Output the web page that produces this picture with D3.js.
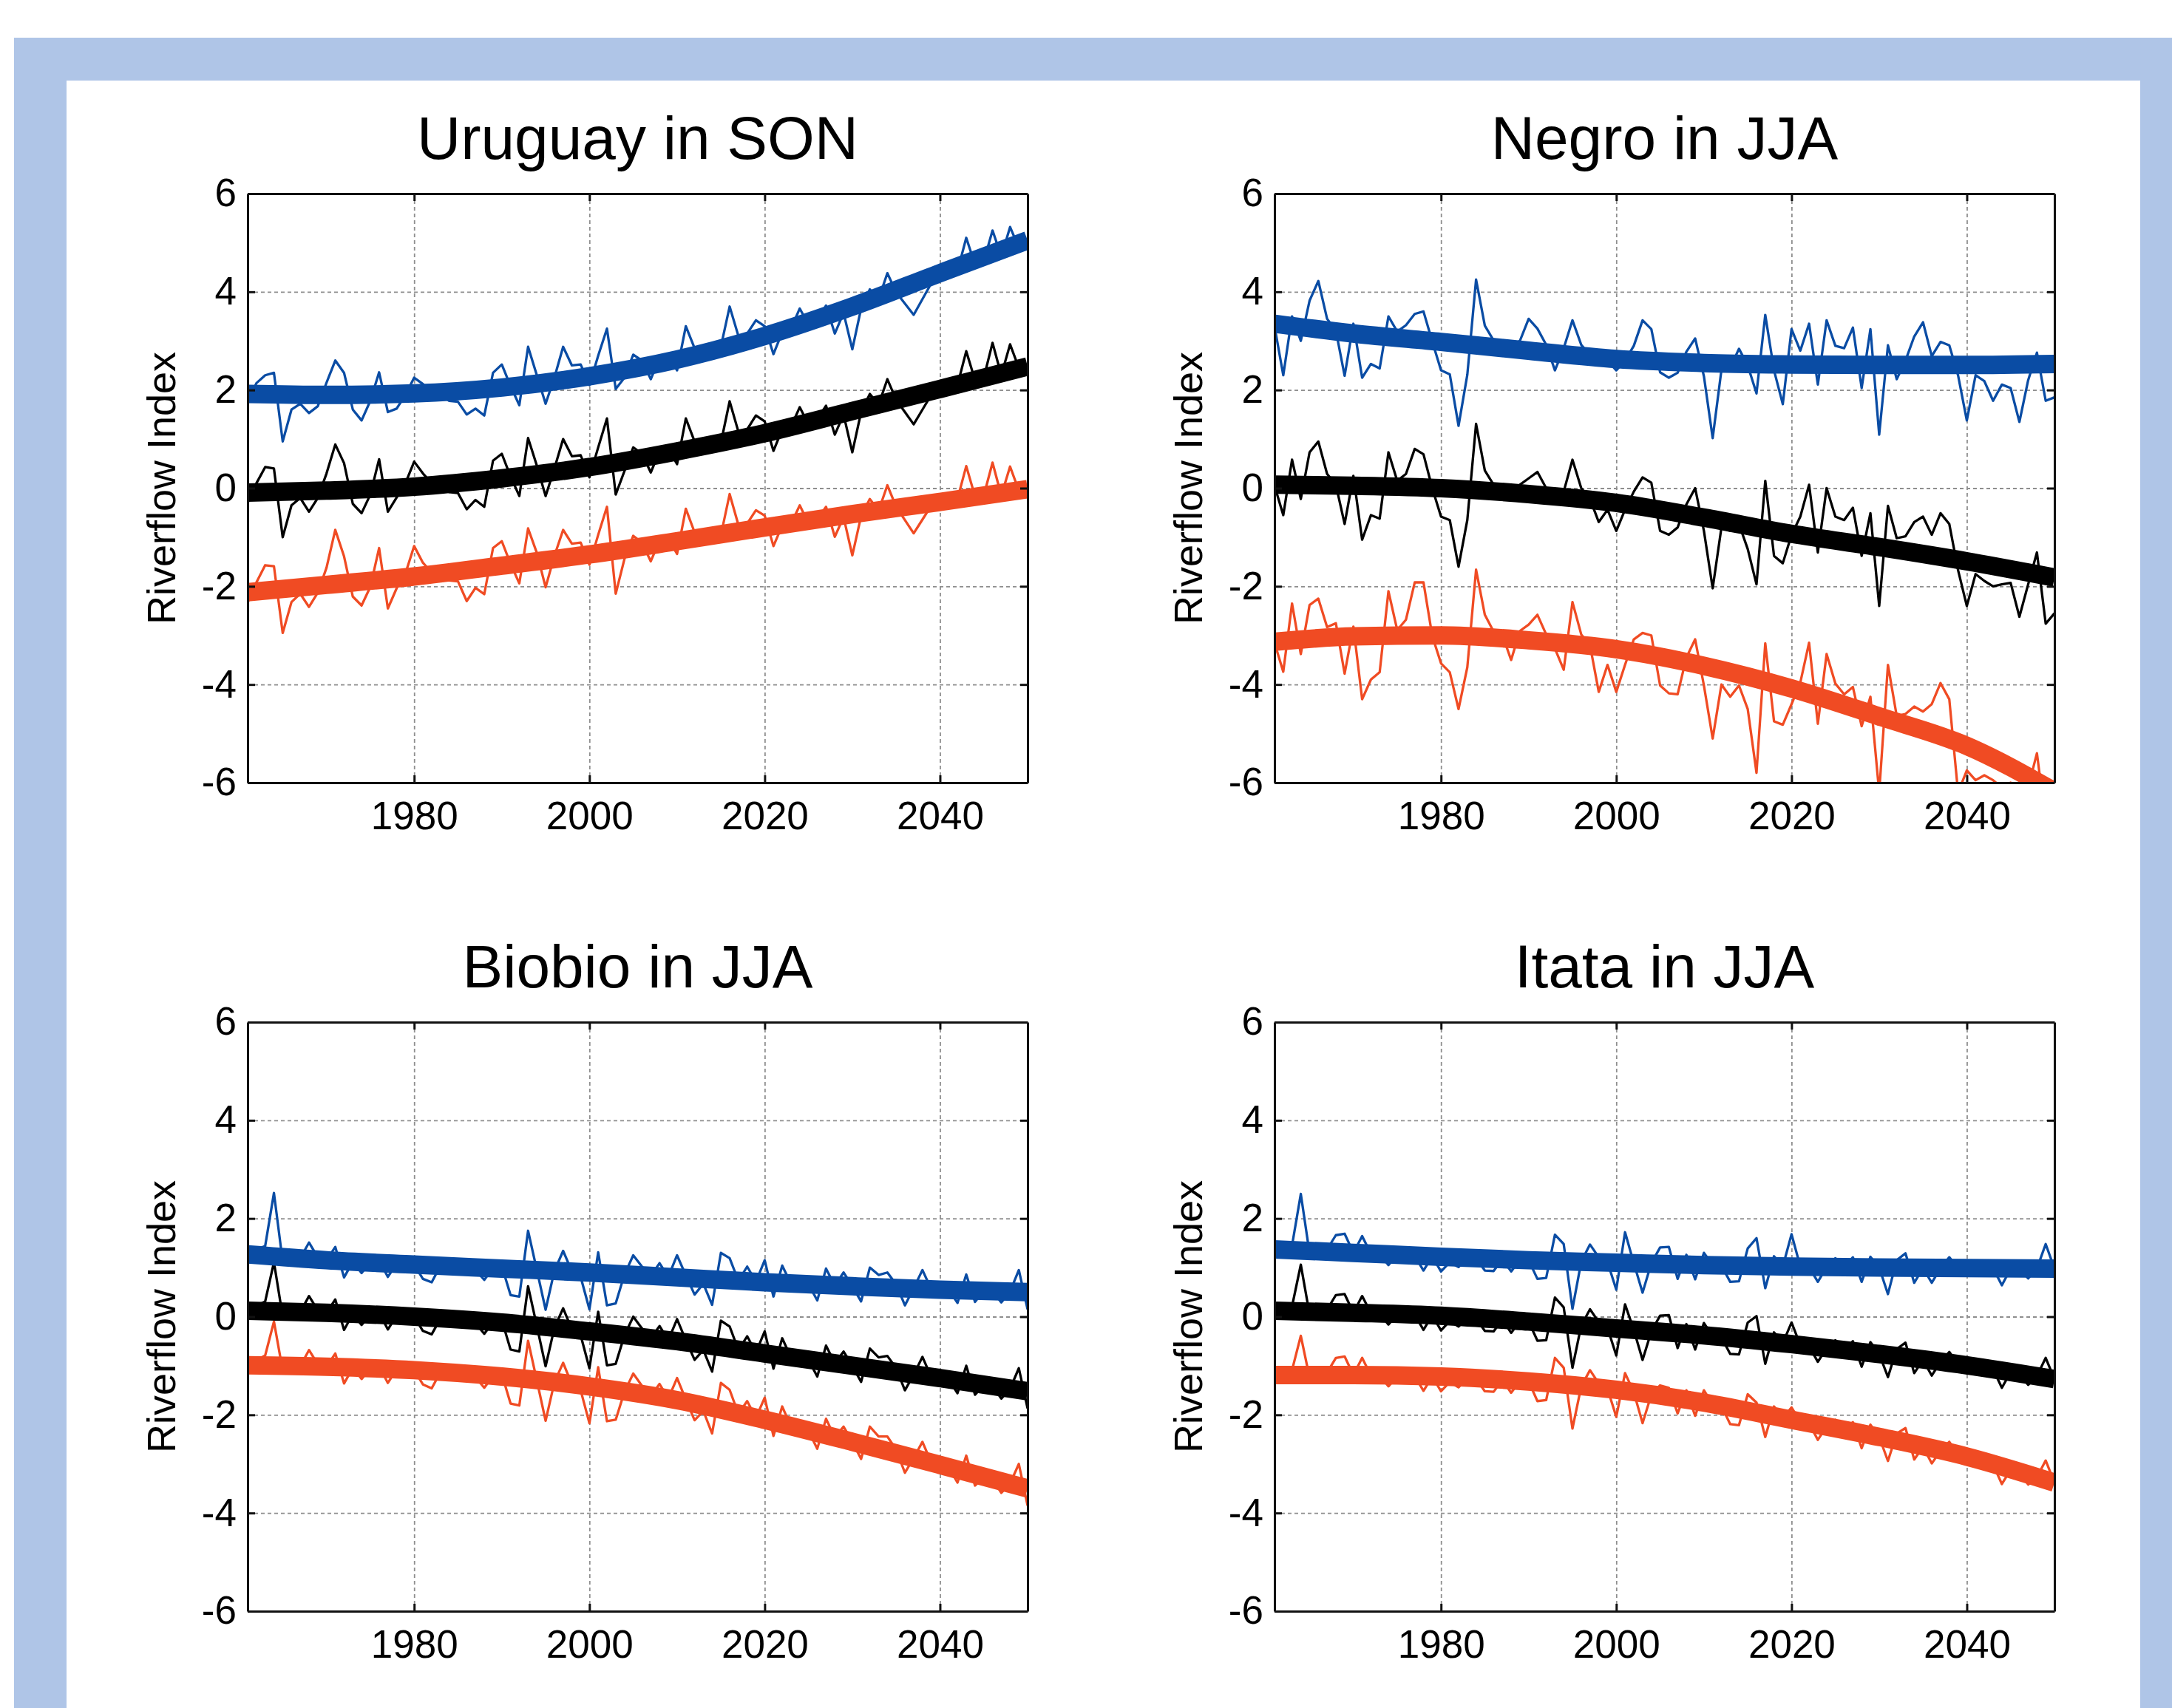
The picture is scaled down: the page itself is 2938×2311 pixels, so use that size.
<!DOCTYPE html>
<html>
<head>
<meta charset="utf-8">
<script src="https://cdn.jsdelivr.net/npm/d3@7"></script>
<style>
  html, body { margin: 0; padding: 0; background: #fff; }
  svg { display: block; }
</style>
</head>
<body>
<div id="chart"></div>
<script>
// years of the yearly series, and of the points the smooth fits are read at
const years = d3.range(1961, 2051)
const fitYears = [1961, 1970, 1980, 1990, 2000, 2010, 2020, 2030, 2040, 2050]
const yTicks = [-6, -4, -2, 0, 2, 4, 6]
const xTicks = [1980, 2000, 2020, 2040]

// Uruguay in SON
const uruguayBlue = [1.75, 2.14, 2.30, 2.35, 0.95, 1.60, 1.72, 1.53, 1.67, 2.15,
  2.60, 2.35, 1.60, 1.38, 1.78, 2.36, 1.55, 1.62, 1.90, 2.25,
  2.12, 1.96, 1.90, 1.78, 1.76, 1.50, 1.62, 1.48, 2.35, 2.52,
  2.08, 1.69, 2.88, 2.30, 1.72, 2.25, 2.88, 2.50, 2.52, 2.10,
  2.70, 3.25, 2.02, 2.25, 2.72, 2.60, 2.22, 2.65, 2.70, 2.40,
  3.30, 2.85, 2.82, 2.88, 2.88, 3.70, 3.10, 3.15, 3.42, 3.30,
  2.73, 3.18, 3.25, 3.66, 3.33, 3.42, 3.72, 3.15, 3.57, 2.83,
  3.66, 4.05, 3.85, 4.38, 3.99, 3.76, 3.53, 3.85, 4.17, 4.30,
  4.36, 4.42, 5.10, 4.55, 4.62, 5.25, 4.72, 5.32, 4.90, 4.95]
const uruguayBlack = [-0.30, 0.10, 0.43, 0.40, -1.00, -0.35, -0.20, -0.48, -0.20, 0.30,
  0.89, 0.51, -0.32, -0.51, -0.13, 0.59, -0.48, -0.19, 0.10, 0.54,
  0.30, 0.10, 0.05, -0.08, -0.10, -0.43, -0.24, -0.38, 0.56, 0.70,
  0.24, -0.16, 1.02, 0.46, -0.16, 0.40, 1.00, 0.65, 0.67, 0.22,
  0.83, 1.42, -0.13, 0.35, 0.83, 0.70, 0.32, 0.75, 0.80, 0.49,
  1.42, 0.95, 0.90, 0.95, 0.92, 1.77, 1.15, 1.20, 1.48, 1.36,
  0.76, 1.20, 1.25, 1.65, 1.30, 1.40, 1.68, 1.09, 1.50, 0.73,
  1.55, 1.92, 1.70, 2.22, 1.80, 1.55, 1.30, 1.60, 1.90, 2.00,
  2.05, 2.10, 2.79, 2.20, 2.25, 2.96, 2.30, 2.93, 2.45, 2.49]
const uruguayRed = [-2.33, -1.92, -1.57, -1.59, -2.95, -2.32, -2.15, -2.42, -2.13, -1.62,
  -0.85, -1.39, -2.21, -2.39, -2.01, -1.22, -2.45, -2.04, -1.74, -1.18,
  -1.52, -1.72, -1.76, -1.88, -1.90, -2.30, -2.03, -2.16, -1.22, -1.08,
  -1.54, -1.94, -0.82, -1.32, -2.02, -1.38, -0.85, -1.13, -1.11, -1.56,
  -0.95, -0.38, -2.15, -1.44, -0.97, -1.11, -1.49, -1.07, -1.03, -1.34,
  -0.42, -0.90, -0.96, -0.92, -0.96, -0.12, -0.75, -0.72, -0.45, -0.56,
  -1.18, -0.76, -0.73, -0.35, -0.72, -0.64, -0.38, -0.99, -0.59, -1.37,
  -0.57, -0.22, -0.46, 0.06, -0.38, -0.65, -0.92, -0.64, -0.36, -0.28,
  -0.25, -0.22, 0.45, -0.17, -0.15, 0.52, -0.15, 0.44, -0.05, 0.00]
const uruguayFitBlue = [1.92, 1.90, 1.93, 2.05, 2.28, 2.62, 3.10, 3.70, 4.38, 5.05]
const uruguayFitBlack = [-0.09, -0.05, 0.03, 0.20, 0.43, 0.75, 1.12, 1.57, 2.02, 2.48]
const uruguayFitRed = [-2.12, -1.97, -1.80, -1.58, -1.35, -1.08, -0.80, -0.53, -0.28, -0.02]

// Negro in JJA
const negroBlue = [3.30, 2.30, 3.50, 3.00, 3.82, 4.22, 3.45, 3.21, 2.29, 3.35,
  2.25, 2.53, 2.44, 3.50, 3.19, 3.32, 3.55, 3.60, 2.99, 2.40,
  2.32, 1.27, 2.31, 4.25, 3.31, 3.01, 2.94, 2.89, 3.00, 3.45,
  3.25, 2.92, 2.40, 2.85, 3.42, 2.92, 2.71, 2.51, 2.60, 2.40,
  2.60, 2.90, 3.42, 3.24, 2.36, 2.25, 2.35, 2.78, 3.05, 2.28,
  1.02, 2.41, 2.45, 2.84, 2.50, 1.93, 3.53, 2.40, 1.71, 3.24,
  2.80, 3.35, 2.11, 3.42, 2.90, 2.85, 3.27, 2.04, 3.24, 1.09,
  2.91, 2.22, 2.60, 3.09, 3.38, 2.69, 2.98, 2.91, 2.30, 1.38,
  2.30, 2.18, 1.78, 2.11, 2.04, 1.35, 2.20, 2.76, 1.78, 1.85]
const negroBlack = [0.05, -0.55, 0.58, -0.22, 0.73, 0.95, 0.29, 0.07, -0.73, 0.25,
  -1.05, -0.55, -0.62, 0.73, 0.15, 0.29, 0.80, 0.69, 0.00, -0.58,
  -0.65, -1.60, -0.65, 1.31, 0.36, 0.07, 0.00, -0.04, 0.07, 0.20,
  0.33, 0.00, -0.29, -0.07, 0.58, 0.00, -0.22, -0.69, -0.44, -0.87,
  -0.44, -0.07, 0.22, 0.11, -0.87, -0.95, -0.80, -0.33, 0.00, -0.87,
  -2.04, -0.80, -0.87, -0.73, -1.24, -1.96, 0.15, -1.38, -1.53, -0.95,
  -0.58, 0.07, -1.31, 0.00, -0.58, -0.65, -0.40, -1.38, -0.51, -2.40,
  -0.36, -1.02, -0.98, -0.69, -0.58, -0.95, -0.51, -0.73, -1.67, -2.40,
  -1.75, -1.89, -2.00, -1.96, -1.93, -2.62, -1.96, -1.31, -2.76, -2.55]
const negroRed = [-3.15, -3.74, -2.35, -3.38, -2.38, -2.25, -2.83, -2.75, -3.78, -2.82,
  -4.30, -3.90, -3.75, -2.10, -2.89, -2.68, -1.92, -1.92, -3.01, -3.57,
  -3.75, -4.50, -3.65, -1.66, -2.58, -2.92, -2.99, -3.50, -2.91, -2.78,
  -2.58, -2.98, -3.27, -3.70, -2.32, -2.98, -3.20, -4.15, -3.60, -4.15,
  -3.60, -3.08, -2.95, -3.00, -4.02, -4.18, -4.20, -3.45, -3.08, -4.02,
  -5.10, -4.00, -4.25, -4.02, -4.50, -5.80, -3.16, -4.75, -4.82, -4.40,
  -3.96, -3.15, -4.80, -3.38, -3.98, -4.20, -4.05, -4.85, -4.25, -6.20,
  -3.60, -4.64, -4.60, -4.45, -4.55, -4.40, -3.97, -4.30, -6.20, -5.75,
  -5.95, -5.85, -5.95, -6.10, -6.00, -6.40, -6.10, -5.40, -6.80, -6.80]
const negroFitBlue = [3.35, 3.15, 2.98, 2.80, 2.63, 2.55, 2.52, 2.51, 2.51, 2.53]
const negroFitBlack = [0.07, 0.05, 0.00, -0.12, -0.30, -0.60, -0.93, -1.20, -1.49, -1.82]
const negroFitRed = [-3.13, -3.02, -3.00, -3.10, -3.28, -3.62, -4.08, -4.65, -5.25, -6.18]

// Biobio in JJA
const biobioBlue = [1.12, 1.36, 1.44, 2.52, 1.12, 1.25, 1.19, 1.51, 1.21, 1.15,
  1.42, 0.80, 1.12, 0.89, 1.11, 1.15, 0.81, 1.08, 1.12, 1.06,
  0.77, 0.70, 1.04, 1.08, 0.97, 1.01, 0.95, 0.75, 0.99, 1.03,
  0.44, 0.41, 1.75, 0.95, 0.14, 0.93, 1.34, 0.92, 0.81, 0.15,
  1.31, 0.23, 0.27, 0.86, 1.25, 1.02, 0.83, 1.09, 0.81, 1.25,
  0.84, 0.45, 0.67, 0.24, 1.30, 1.19, 0.73, 1.02, 0.71, 1.15,
  0.41, 1.04, 0.67, 0.71, 0.66, 0.33, 0.98, 0.63, 0.90, 0.62,
  0.31, 1.00, 0.85, 0.90, 0.66, 0.23, 0.58, 0.95, 0.56, 0.50,
  0.55, 0.28, 0.86, 0.30, 0.53, 0.52, 0.29, 0.51, 0.95, 0.15]
const biobioBlack = [-0.03, 0.22, 0.31, 1.11, 0.00, 0.15, 0.09, 0.42, 0.13, 0.08,
  0.35, -0.27, 0.06, -0.17, 0.04, 0.08, -0.26, 0.02, 0.06, 0.00,
  -0.29, -0.36, -0.04, 0.00, -0.11, -0.07, -0.13, -0.35, -0.11, -0.07,
  -0.67, -0.71, 0.62, -0.19, -1.01, -0.23, 0.17, -0.26, -0.38, -1.05,
  0.10, -0.99, -0.96, -0.38, 0.00, -0.24, -0.44, -0.19, -0.48, -0.05,
  -0.48, -0.88, -0.68, -1.12, -0.08, -0.20, -0.68, -0.40, -0.73, -0.30,
  -1.06, -0.44, -0.83, -0.80, -0.88, -1.22, -0.59, -0.95, -0.71, -1.00,
  -1.33, -0.65, -0.83, -0.80, -1.05, -1.50, -1.18, -0.82, -1.23, -1.30,
  -1.28, -1.56, -1.00, -1.59, -1.39, -1.41, -1.67, -1.47, -1.05, -1.87]
const biobioRed = [-1.14, -0.89, -0.79, -0.10, -1.10, -0.95, -1.01, -0.68, -0.97, -1.02,
  -0.75, -1.36, -1.04, -1.27, -1.05, -1.01, -1.35, -1.07, -1.03, -1.09,
  -1.38, -1.46, -1.13, -1.09, -1.21, -1.17, -1.23, -1.45, -1.21, -1.17,
  -1.77, -1.81, -0.49, -1.30, -2.12, -1.34, -0.94, -1.38, -1.50, -2.17,
  -1.03, -2.13, -2.10, -1.53, -1.16, -1.41, -1.62, -1.37, -1.67, -1.25,
  -1.69, -2.11, -1.92, -2.38, -1.35, -1.49, -1.98, -1.72, -2.06, -1.65,
  -2.43, -1.83, -2.24, -2.23, -2.33, -2.69, -2.08, -2.46, -2.24, -2.55,
  -2.90, -2.24, -2.44, -2.44, -2.71, -3.18, -2.88, -2.55, -2.97, -3.07,
  -3.07, -3.38, -2.83, -3.44, -3.26, -3.31, -3.59, -3.40, -3.00, -3.85]
const biobioFitBlue = [1.27, 1.15, 1.06, 0.98, 0.90, 0.80, 0.70, 0.62, 0.55, 0.50]
const biobioFitBlack = [0.12, 0.08, 0.00, -0.12, -0.30, -0.50, -0.75, -1.00, -1.25, -1.52]
const biobioFitRed = [-0.99, -1.02, -1.09, -1.22, -1.42, -1.70, -2.10, -2.55, -3.02, -3.50]

// Itata in JJA
const itataBlue = [1.27, 1.36, 1.45, 2.50, 1.29, 1.33, 1.37, 1.66, 1.69, 1.30,
  1.64, 1.28, 1.28, 1.05, 1.26, 1.25, 1.24, 0.94, 1.23, 0.92,
  1.11, 1.01, 1.20, 1.19, 0.94, 0.93, 1.17, 0.92, 1.16, 1.15,
  0.77, 0.79, 1.67, 1.48, 0.16, 1.12, 1.47, 1.21, 1.11, 0.55,
  1.72, 1.09, 0.49, 1.09, 1.41, 1.42, 0.77, 1.26, 0.76, 1.30,
  1.05, 1.04, 0.71, 0.72, 1.39, 1.60, 0.58, 1.23, 1.02, 1.68,
  1.02, 1.01, 0.71, 1.01, 1.19, 1.00, 1.21, 0.71, 1.22, 1.00,
  0.46, 1.15, 1.29, 0.69, 0.99, 0.69, 0.99, 1.21, 0.99, 0.99,
  0.99, 1.04, 0.99, 0.64, 0.98, 0.98, 0.78, 0.98, 1.48, 0.98]
const itataBlack = [0.02, 0.12, 0.21, 1.06, 0.05, 0.10, 0.14, 0.44, 0.46, 0.08,
  0.42, 0.07, 0.06, -0.16, 0.05, 0.04, 0.04, -0.27, 0.03, -0.28,
  -0.09, -0.20, -0.02, -0.03, -0.29, -0.30, -0.06, -0.33, -0.09, -0.10,
  -0.49, -0.48, 0.39, 0.19, -1.04, -0.18, 0.15, -0.11, -0.23, -0.79,
  0.25, -0.27, -0.88, -0.30, 0.02, 0.03, -0.64, -0.15, -0.67, -0.13,
  -0.40, -0.42, -0.76, -0.77, -0.12, 0.01, -0.96, -0.32, -0.54, -0.12,
  -0.58, -0.60, -0.92, -0.64, -0.48, -0.68, -0.50, -1.02, -0.52, -0.76,
  -1.23, -0.66, -0.53, -1.15, -0.88, -1.20, -0.92, -0.72, -0.97, -0.99,
  -1.02, -1.00, -1.07, -1.45, -1.13, -1.16, -1.39, -1.21, -0.84, -1.27]
const itataRed = [-1.29, -1.19, -1.09, -0.39, -1.24, -1.19, -1.14, -0.84, -0.81, -1.19,
  -0.84, -1.20, -1.20, -1.42, -1.21, -1.21, -1.21, -1.51, -1.22, -1.52,
  -1.33, -1.44, -1.25, -1.26, -1.52, -1.53, -1.29, -1.55, -1.31, -1.32,
  -1.72, -1.70, -0.84, -1.04, -2.28, -1.42, -1.09, -1.36, -1.47, -2.04,
  -1.15, -1.54, -2.17, -1.59, -1.40, -1.45, -1.97, -1.50, -2.02, -1.50,
  -1.79, -1.82, -2.19, -2.21, -1.58, -1.75, -2.45, -1.83, -2.07, -1.85,
  -2.14, -2.17, -2.51, -2.24, -2.10, -2.31, -2.15, -2.68, -2.20, -2.45,
  -2.94, -2.38, -2.27, -2.91, -2.65, -2.99, -2.73, -2.55, -2.81, -2.85,
  -2.90, -2.91, -3.01, -3.41, -3.12, -3.17, -3.42, -3.27, -2.93, -3.38]
const itataFitBlue = [1.37, 1.30, 1.22, 1.15, 1.10, 1.05, 1.02, 1.00, 0.99, 0.98]
const itataFitBlack = [0.12, 0.08, 0.02, -0.10, -0.24, -0.38, -0.56, -0.76, -0.99, -1.27]
const itataFitRed = [-1.19, -1.19, -1.22, -1.32, -1.49, -1.75, -2.10, -2.45, -2.85, -3.38]

const panels = [
  { title: 'Uruguay in SON', thin: [uruguayBlue, uruguayBlack, uruguayRed], fit: [uruguayFitBlue, uruguayFitBlack, uruguayFitRed], left: 335, top: 262 },
  { title: 'Negro in JJA', thin: [negroBlue, negroBlack, negroRed], fit: [negroFitBlue, negroFitBlack, negroFitRed], left: 1724, top: 262 },
  { title: 'Biobio in JJA', thin: [biobioBlue, biobioBlack, biobioRed], fit: [biobioFitBlue, biobioFitBlack, biobioFitRed], left: 335, top: 1383 },
  { title: 'Itata in JJA', thin: [itataBlue, itataBlack, itataRed], fit: [itataFitBlue, itataFitBlack, itataFitRed], left: 1724, top: 1383 }
]
const colors = ['#0a4ca4', '#000000', '#f04b23']

const W = 2938
const H = 2311
const width = 1055
const height = 797
const font = "'Liberation Sans', Arial, Helvetica, sans-serif"

const svg = d3.select('#chart')
  .append('svg')
  .attr('width', W)
  .attr('height', H)

// light blue frame round the white figure
svg.append('rect').attr('width', W).attr('height', H).attr('fill', '#fff')
svg.append('rect')
  .attr('x', 19).attr('y', 51)
  .attr('width', W - 19).attr('height', H - 51)
  .attr('fill', '#afc5e7')
svg.append('rect')
  .attr('x', 90).attr('y', 109)
  .attr('width', 2895 - 90).attr('height', H - 109)
  .attr('fill', '#fff')

const x = d3.scaleLinear().domain([1961, 2050]).range([0, width])
const y = d3.scaleLinear().domain([-6, 6]).range([height, 0])

const thinLine = d3.line()
  .x((d, i) => x(years[i]))
  .y(d => y(d))
const fitLine = d3.line()
  .x((d, i) => x(fitYears[i]))
  .y(d => y(d))
  .curve(d3.curveMonotoneX)

panels.forEach((p, k) => {
  const g = svg.append('g')
    .attr('transform', `translate(${p.left}, ${p.top})`)

  g.append('clipPath')
    .attr('id', 'clip' + k)
    .append('rect')
    .attr('width', width)
    .attr('height', height)

  // dotted grid
  g.append('g')
    .call(d3.axisLeft(y).tickValues([-4, -2, 0, 2, 4]).tickSize(-width).tickFormat(''))
    .call(s => s.select('.domain').remove())
  g.append('g')
    .attr('transform', `translate(0, ${height})`)
    .call(d3.axisBottom(x).tickValues(xTicks).tickSize(-height).tickFormat(''))
    .call(s => s.select('.domain').remove())
  g.selectAll('.tick line')
    .attr('stroke', '#8e8e8e')
    .attr('stroke-width', 1.8)
    .attr('stroke-dasharray', '5,4')

  const plot = g.append('g').attr('clip-path', `url(#clip${k})`)

  // yearly series
  p.thin.forEach((s, j) => {
    plot.append('path')
      .datum(s)
      .attr('d', thinLine)
      .attr('fill', 'none')
      .attr('stroke', colors[j])
      .attr('stroke-width', 3.3)
      .attr('stroke-linejoin', 'round')
  })
  // smooth fits
  p.fit.forEach((s, j) => {
    plot.append('path')
      .datum(s)
      .attr('d', fitLine)
      .attr('fill', 'none')
      .attr('stroke', colors[j])
      .attr('stroke-width', 25)
      .attr('stroke-linecap', 'butt')
  })

  // box with inward ticks on all four sides
  const axes = g.append('g')
  axes.append('g')
    .call(d3.axisLeft(y).tickValues(yTicks).tickSizeInner(-10).tickSizeOuter(0).tickPadding(15).tickFormat(d => String(d)))
  axes.append('g')
    .attr('transform', `translate(0, ${height})`)
    .call(d3.axisBottom(x).tickValues(xTicks).tickSizeInner(-10).tickSizeOuter(0).tickPadding(25).tickFormat(d => String(d)))
  axes.append('g')
    .call(d3.axisTop(x).tickValues(xTicks).tickSizeInner(-10).tickSizeOuter(0).tickFormat(''))
  axes.append('g')
    .attr('transform', `translate(${width}, 0)`)
    .call(d3.axisRight(y).tickValues(yTicks).tickSizeInner(-10).tickSizeOuter(0).tickFormat(''))
  axes.selectAll('.domain').attr('stroke', '#111').attr('stroke-width', 3)
  axes.selectAll('.tick line').attr('stroke', '#111').attr('stroke-width', 3)
  axes.selectAll('.tick text')
    .attr('font-size', 53)
    .attr('font-family', font)
    .attr('fill', '#000')

  g.append('text')
    .attr('x', width / 2)
    .attr('y', -47)
    .attr('text-anchor', 'middle')
    .attr('font-size', 82)
    .attr('font-family', font)
    .text(p.title)

  g.append('text')
    .attr('transform', `translate(-98, ${height / 2}) rotate(-90)`)
    .attr('text-anchor', 'middle')
    .attr('font-size', 54)
    .attr('font-family', font)
    .text('Riverflow Index')
})
</script>
</body>
</html>
